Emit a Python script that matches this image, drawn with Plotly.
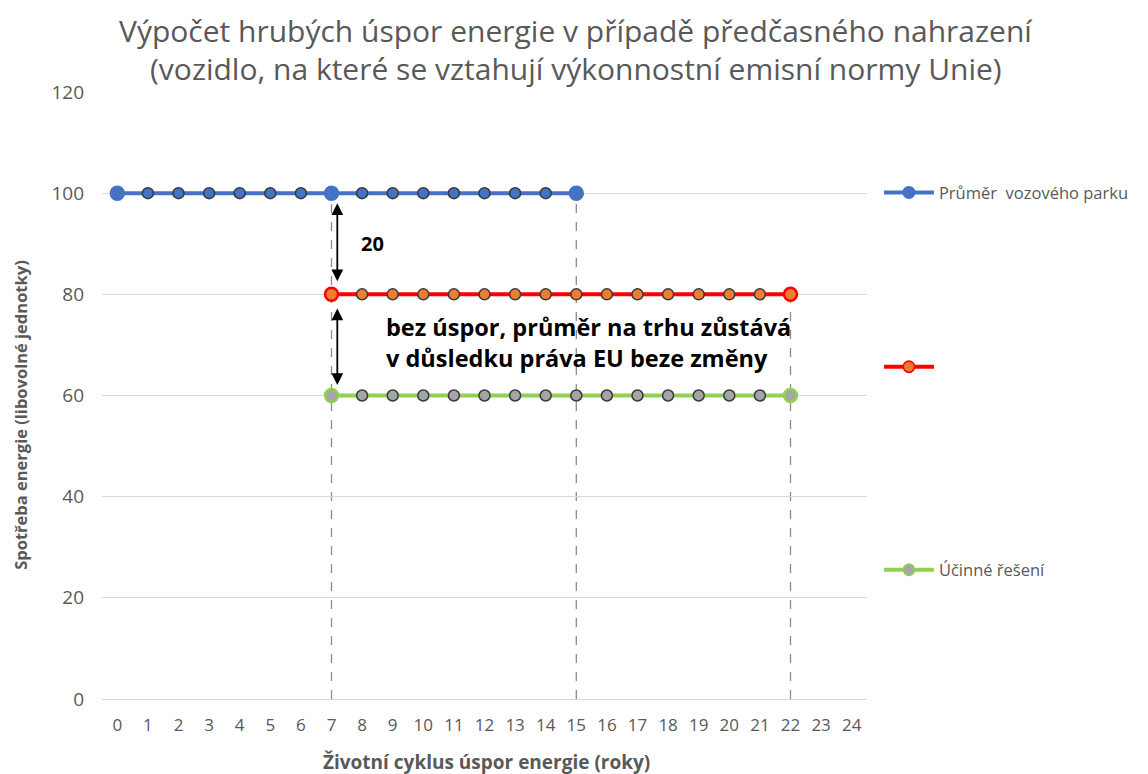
import plotly.graph_objects as go

# ---- data ----
years = list(range(0, 25))
fleet_x = list(range(0, 16))
fleet_y = [100] * 16
market_x = list(range(7, 23))
market_y = [80] * 16
efficient_x = list(range(7, 23))
efficient_y = [60] * 16
drop_x = [7, 15, 22]
drop_top = [100, 100, 80]
y_ticks = [0, 20, 40, 60, 80, 100, 120]

title_lines = ["Výpočet hrubých úspor energie v případě předčasného nahrazení",
               "(vozidlo, na které se vztahují výkonnostní emisní normy Unie)"]

BLUE = "#4472C4"
RED = "#FF0000"
ORANGE = "#ED7D31"
GREEN = "#92D050"
GRAY = "#A5A5A5"
DARK = "#3a3a3a"
TXT = "#595959"
FONT = "Open Sans, Noto Sans, sans-serif"

fig = go.Figure()

# dashed drop lines
for x, top in zip(drop_x, drop_top):
    fig.add_shape(type="line", x0=x, x1=x, y0=0, y1=top, xref="x", yref="y",
                  line=dict(color="#8c8c8c", width=1.3, dash="dash"), layer="below")


def edge_colors(xs, special, color):
    return [color if x in special else DARK for x in xs]


def edge_widths(xs, special):
    return [2.5 if x in special else 1.5 for x in xs]


def sizes(xs, special, big=13, small=11):
    return [big if x in special else small for x in xs]

blue_special = {0, 7, 15}
fig.add_trace(go.Scatter(
    x=fleet_x, y=fleet_y, mode="lines+markers", name="Průměr  vozového parku",
    line=dict(color=BLUE, width=4),
    marker=dict(color=BLUE, size=sizes(fleet_x, blue_special), opacity=1,
                line=dict(color=edge_colors(fleet_x, blue_special, BLUE),
                          width=edge_widths(fleet_x, blue_special))),
    legend="legend"))

red_special = {7, 22}
fig.add_trace(go.Scatter(
    x=market_x, y=market_y, mode="lines+markers", name="",
    line=dict(color=RED, width=4),
    marker=dict(color=ORANGE, opacity=1, size=sizes(market_x, red_special),
                line=dict(color=edge_colors(market_x, red_special, RED),
                          width=edge_widths(market_x, red_special))),
    legend="legend2"))

green_special = {7, 22}
fig.add_trace(go.Scatter(
    x=efficient_x, y=efficient_y, mode="lines+markers", name="Účinné řešení",
    line=dict(color=GREEN, width=4),
    marker=dict(color=GRAY, size=sizes(efficient_x, green_special), opacity=1,
                line=dict(color=edge_colors(efficient_x, green_special, GREEN),
                          width=edge_widths(efficient_x, green_special))),
    legend="legend3"))

# double-headed arrows
fig.add_annotation(x=7.19, y=82.6, ax=7.19, ay=98.3, xref="x", yref="y", axref="x", ayref="y",
                   showarrow=True, arrowhead=2, arrowside="end+start", arrowsize=1.3,
                   arrowwidth=1.8, arrowcolor="black", text="")
fig.add_annotation(x=7.19, y=62.1, ax=7.19, ay=77.5, xref="x", yref="y", axref="x", ayref="y",
                   showarrow=True, arrowhead=2, arrowside="end+start", arrowsize=1.3,
                   arrowwidth=1.8, arrowcolor="black", text="")

fig.add_annotation(x=7.9, y=90, xref="x", yref="y", text="<b>20</b>", showarrow=False,
                   xanchor="left", font=dict(size=20, color="black", family=FONT))
fig.add_annotation(x=8.72, y=70.5, xref="x", yref="y",
                   text="<b>bez úspor, průměr na trhu zůstává<br>v důsledku práva EU beze změny</b>",
                   showarrow=False, xanchor="left", align="left",
                   font=dict(size=23.5, color="black", family=FONT))

# titles as annotations
fig.add_annotation(x=0.619, y=1.102, xref="paper", yref="paper", text=title_lines[0],
                   showarrow=False, xanchor="center", yanchor="middle",
                   font=dict(size=30, color=TXT, family=FONT))
fig.add_annotation(x=0.619, y=1.0395, xref="paper", yref="paper", text=title_lines[1],
                   showarrow=False, xanchor="center", yanchor="middle",
                   font=dict(size=30, color=TXT, family=FONT))

# axis titles
fig.add_annotation(x=-0.106, y=0.468, xref="paper", yref="paper", textangle=-90,
                   xanchor="center", yanchor="middle",
                   text="<b>Spotřeba energie (libovolné jednotky)</b>", showarrow=False,
                   font=dict(size=16.5, color=TXT, family=FONT))
fig.add_annotation(x=0.503, y=-0.1038, xref="paper", yref="paper",
                   text="<b>Životní cyklus úspor energie (roky)</b>", showarrow=False,
                   xanchor="center", yanchor="middle", font=dict(size=19, color=TXT, family=FONT))

legend_common = dict(font=dict(size=16.5, color=TXT, family=FONT),
                     bgcolor="rgba(0,0,0,0)", itemwidth=50, xanchor="left", yanchor="middle")

fig.update_layout(
    width=1140, height=766,
    margin=dict(l=94, r=281, t=84, b=75),
    paper_bgcolor="white", plot_bgcolor="white",
    font=dict(family=FONT, color=TXT),
    showlegend=True,
    legend=dict(x=1.0156, y=0.834, **legend_common),
    legend2=dict(x=1.0156, y=0.547, **legend_common),
    legend3=dict(x=1.0156, y=0.2125, **legend_common),
    xaxis=dict(range=[-0.5, 24.5], tickmode="array", tickvals=years, ticktext=[str(v) for v in years],
               showgrid=False, zeroline=False, showline=False, ticks="",
               tickfont=dict(size=17, color=TXT), ticklabelstandoff=14),
    yaxis=dict(range=[0, 120], tickvals=y_ticks, showgrid=True, gridcolor="#d9d9d9", gridwidth=1.3,
               zeroline=True, zerolinecolor="#d9d9d9", zerolinewidth=1.3, showline=False,
               tickfont=dict(size=19, color=TXT), ticklabelstandoff=17),
)

fig.write_html("out.html")
